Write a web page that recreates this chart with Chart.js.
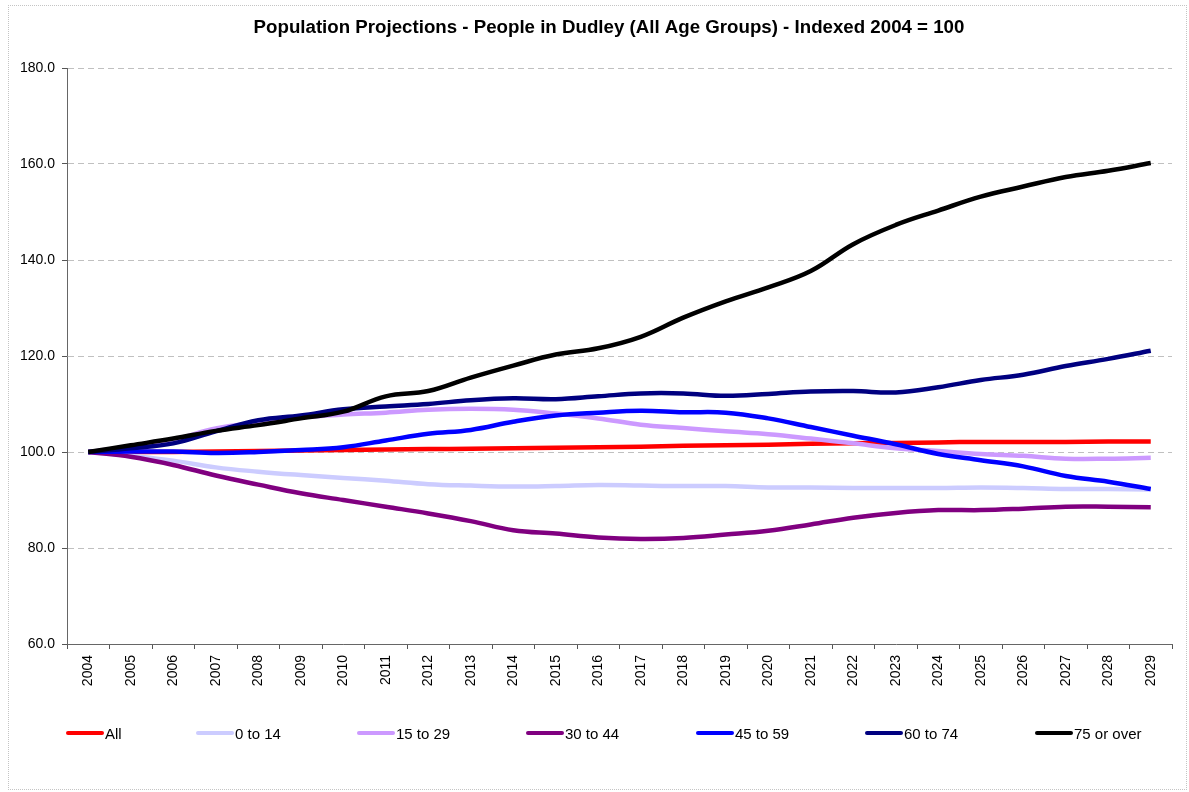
<!DOCTYPE html>
<html>
<head>
<meta charset="utf-8">
<script src="https://cdn.jsdelivr.net/npm/chart.js@4/dist/chart.umd.min.js"></script>
<style>
    body { margin: 0; background: #fff; }
    #wrap {
        position: absolute; left: 8px; top: 5px;
        width: 1177px; height: 783px;
        border: 1px dotted #c4c4c4;
    }
</style>
</head>
<body>
<div id="wrap"><canvas id="popChart" width="1177" height="783"></canvas></div>
<script>
// Years on the category axis
const years = ['2004', '2005', '2006', '2007', '2008', '2009', '2010', '2011', '2012', '2013',
    '2014', '2015', '2016', '2017', '2018', '2019', '2020', '2021', '2022', '2023',
    '2024', '2025', '2026', '2027', '2028', '2029'];

// Indexed values (2004 = 100)
const allAges = [100, 100.0, 100.0, 100.1, 100.2, 100.3, 100.4, 100.5, 100.6, 100.7, 100.8, 100.9, 101.0,
    101.1, 101.3, 101.4, 101.5, 101.7, 101.8, 101.9, 102.0, 102.1, 102.1, 102.1, 102.2, 102.2];
const age0to14 = [100, 99.2, 98.2, 96.8, 95.9, 95.2, 94.6, 94.0, 93.3, 93.0, 92.8, 92.9, 93.1,
    93.0, 92.9, 92.9, 92.6, 92.6, 92.5, 92.5, 92.5, 92.6, 92.5, 92.3, 92.3, 92.2];
const age15to29 = [100, 101.2, 102.6, 104.9, 106.2, 107.2, 107.8, 108.2, 108.8, 109.0, 108.8, 108.0, 107.0,
    105.7, 105.0, 104.3, 103.7, 102.8, 101.8, 100.8, 100.2, 99.6, 99.2, 98.6, 98.6, 98.8];
const age30to44 = [100, 99.0, 97.3, 95.1, 93.2, 91.4, 90.0, 88.6, 87.2, 85.6, 83.7, 83.0, 82.2,
    81.9, 82.1, 82.8, 83.6, 84.9, 86.3, 87.3, 87.9, 87.9, 88.2, 88.6, 88.6, 88.5];
const age45to59 = [100, 100.1, 100.1, 99.8, 100.0, 100.4, 101.0, 102.4, 103.8, 104.6, 106.3, 107.6, 108.2,
    108.6, 108.3, 108.2, 107.0, 105.2, 103.4, 101.6, 99.6, 98.3, 97.0, 95.0, 93.8, 92.3];
const age60to74 = [100, 100.8, 101.8, 104.3, 106.6, 107.6, 108.9, 109.5, 110.0, 110.8, 111.2, 111.0, 111.6,
    112.2, 112.2, 111.7, 112.1, 112.6, 112.7, 112.4, 113.5, 115.0, 116.1, 117.9, 119.4, 121.1];
const age75plus = [100, 101.4, 102.8, 104.4, 105.6, 107.0, 108.4, 111.6, 112.7, 115.5, 118.0, 120.3, 121.6,
    124.0, 128.0, 131.4, 134.3, 137.7, 143.3, 147.3, 150.3, 153.2, 155.3, 157.3, 158.6, 160.2];

const seriesNames = ['All', '0 to 14', '15 to 29', '30 to 44', '45 to 59', '60 to 74', '75 or over'];
const seriesData = [allAges, age0to14, age15to29, age30to44, age45to59, age60to74, age75plus];
const seriesColors = ['#ff0000', '#ccccff', '#cc99ff', '#800080', '#0000ff', '#000080', '#000000'];

// Y axis range
const yMin = 60, yMax = 180, yStep = 20;

const chartTitle = 'Population Projections - People in Dudley (All Age Groups) - Indexed 2004 = 100';

const FONT = "'Liberation Sans', Arial, sans-serif";
Chart.defaults.font.family = FONT;
Chart.defaults.color = '#000';

// Title centred where Excel put it, plus the legend spread along the bottom
const excelDecor = {
    id: 'excelDecor',
    afterDraw(chart) {
        const ctx = chart.ctx;
        ctx.save();
        ctx.fillStyle = '#000';
        ctx.font = 'bold 18.7px ' + FONT;
        ctx.textAlign = 'center';
        ctx.textBaseline = 'middle';
        ctx.fillText(chartTitle, 600, 22);

        const xs = [57, 187, 348, 517, 687, 856, 1026];
        const y = chart.chartArea.bottom + 89;
        ctx.lineCap = 'round';
        ctx.lineWidth = 4;
        ctx.font = '15px ' + FONT;
        ctx.textAlign = 'left';
        chart.data.datasets.forEach((ds, i) => {
            ctx.strokeStyle = ds.borderColor;
            ctx.beginPath();
            ctx.moveTo(xs[i] + 2, y);
            ctx.lineTo(xs[i] + 36, y);
            ctx.stroke();
            ctx.fillText(ds.label, xs[i] + 39, y + 2);
        });
        ctx.restore();
    }
};

const ctx = document.getElementById('popChart').getContext('2d');
new Chart(ctx, {
    type: 'line',
    data: {
        labels: years,
        datasets: seriesNames.map((name, i) => ({
            label: name,
            data: seriesData[i],
            borderColor: seriesColors[i],
            backgroundColor: seriesColors[i],
            borderWidth: 4.5,
            pointRadius: 0,
            tension: 0.4,
            fill: false,
            order: seriesNames.length - i
        }))
    },
    options: {
        responsive: false,
        animation: false,
        layout: { padding: { left: 0, right: 14, top: 62, bottom: 0 } },
        scales: {
            x: {
                offset: true,
                afterFit: (scale) => { scale.height = 145; },
                grid: { display: true, drawOnChartArea: false, drawTicks: true, tickLength: 5, offset: true, tickColor: '#555' },
                border: { display: true, color: '#666', width: 1 },
                ticks: { autoSkip: false, maxRotation: 90, minRotation: 90, padding: 6, font: { size: 14 } }
            },
            y: {
                min: yMin, max: yMax,
                afterFit: (scale) => { scale.width = 58; },
                grid: { color: '#c0c0c0', tickColor: '#555', tickLength: 5, drawTicks: true },
                border: { display: true, color: '#666', width: 1, dash: [6, 4] },
                ticks: {
                    stepSize: yStep, padding: 7, font: { size: 14 },
                    callback: (v) => v.toFixed(1)
                }
            }
        },
        plugins: {
            title: { display: false },
            legend: { display: false },
            tooltip: { enabled: false }
        }
    },
    plugins: [excelDecor]
});
</script>
</body>
</html>
